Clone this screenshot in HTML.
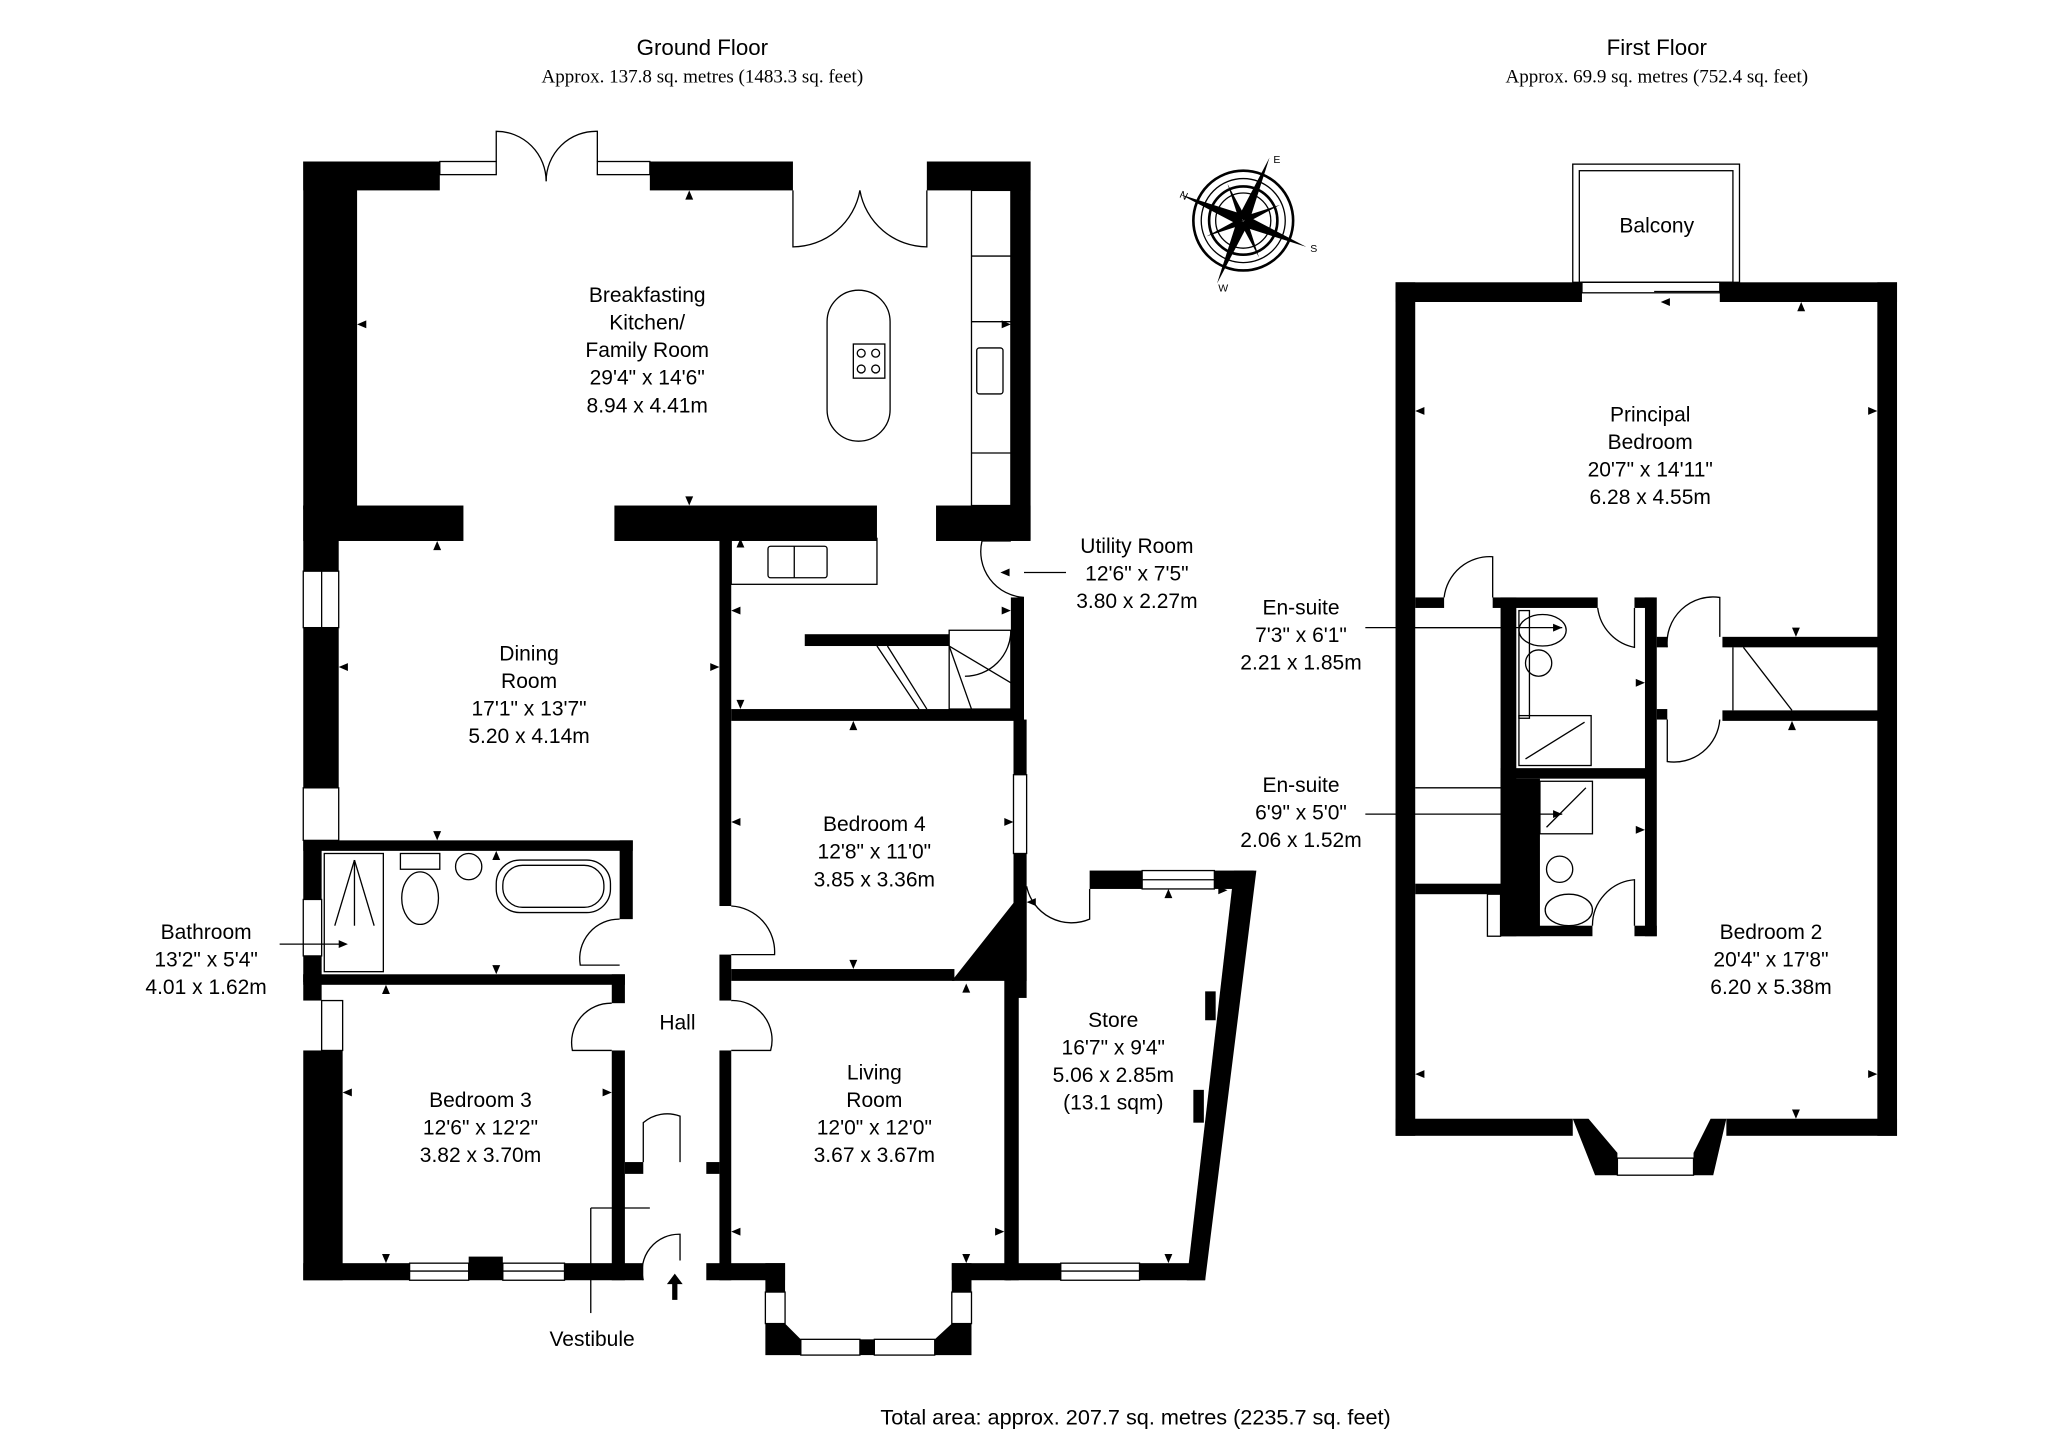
<!DOCTYPE html>
<html><head><meta charset="utf-8"><style>
html,body{margin:0;padding:0;background:#fff}
svg{display:block}
text{font-family:"Liberation Sans",sans-serif;fill:#000}
.s{font-family:"Liberation Serif",serif}
</style></head><body>
<svg width="2048" height="1447" viewBox="0 0 1560 1102" preserveAspectRatio="none" xmlns="http://www.w3.org/2000/svg">
<rect width="1560" height="1102" fill="#fff"/>
<!-- titles -->
<text x="535" y="42" font-size="17" text-anchor="middle">Ground Floor</text>
<text x="535" y="63" font-size="14.5" text-anchor="middle" class="s">Approx. 137.8 sq. metres (1483.3 sq. feet)</text>
<text x="1262" y="42" font-size="17" text-anchor="middle">First Floor</text>
<text x="1262" y="63" font-size="14.5" text-anchor="middle" class="s">Approx. 69.9 sq. metres (752.4 sq. feet)</text>
<text x="865" y="1085" font-size="16.5" text-anchor="middle">Total area: approx. 207.7 sq. metres (2235.7 sq. feet)</text>

<g fill="#000">
<rect x="231" y="123" width="104" height="22"/>
<rect x="231" y="123" width="41" height="265"/>
<rect x="231" y="385" width="122" height="27"/>
<rect x="231" y="385" width="27" height="50"/>
<rect x="231" y="478" width="27" height="122"/>
<rect x="231" y="640" width="251" height="8"/>
<rect x="231" y="640" width="14" height="45"/>
<rect x="231" y="728" width="14" height="20"/>
<rect x="231" y="742" width="245" height="8"/>
<rect x="231" y="742" width="14" height="20"/>
<rect x="231" y="800" width="30" height="175"/>
<rect x="231" y="962" width="81" height="13"/>
<rect x="357" y="957" width="26" height="18"/>
<rect x="430" y="962" width="60" height="13"/>
<rect x="495" y="123" width="109" height="22"/>
<rect x="706" y="123" width="79" height="22"/>
<rect x="770" y="123" width="15" height="288"/>
<rect x="468" y="385" width="200" height="27"/>
<rect x="713" y="385" width="72" height="27"/>
<rect x="770" y="455" width="10" height="93"/>
<rect x="548" y="410" width="9" height="280"/>
<rect x="548" y="727" width="9" height="35"/>
<rect x="548" y="800" width="9" height="175"/>
<rect x="538" y="962" width="60" height="13"/>
<rect x="613" y="483" width="110" height="9"/>
<rect x="557" y="540" width="223" height="9"/>
<rect x="772" y="548" width="10" height="42"/>
<rect x="772" y="650" width="10" height="110"/>
<rect x="557" y="738" width="170" height="9"/>
<polygon points="725,747 782,675 782,747"/>
<rect x="765" y="740" width="11" height="235"/>
<rect x="766" y="962" width="42" height="13"/>
<rect x="868" y="962" width="50" height="13"/>
<rect x="830" y="663" width="40" height="14"/>
<rect x="925" y="663" width="30" height="14"/>
<polygon points="940,663 957,663 918,975 904,975"/>
<rect x="918" y="755" width="8" height="22"/>
<rect x="909" y="830" width="8" height="25"/>
<rect x="472" y="640" width="10" height="60"/>
<rect x="466" y="742" width="10" height="22"/>
<rect x="466" y="800" width="10" height="175"/>
<rect x="476" y="885" width="14" height="9"/>
<rect x="538" y="885" width="10" height="9"/>
<rect x="725" y="962" width="45" height="13"/>
<rect x="583" y="962" width="15" height="22"/>
<polygon points="583,1008 598,1008 610,1020 610,1032 583,1032"/>
<rect x="655" y="1020" width="11" height="12"/>
<rect x="725" y="962" width="15" height="22"/>
<polygon points="740,1008 725,1008 712,1020 712,1032 740,1032"/>
<rect x="1063" y="215" width="142" height="15"/>
<rect x="1310" y="215" width="135" height="15"/>
<rect x="1063" y="215" width="15" height="650"/>
<rect x="1430" y="215" width="15" height="650"/>
<rect x="1063" y="852" width="135" height="13"/>
<rect x="1315" y="852" width="130" height="13"/>
<polygon points="1198,852 1210,852 1232,878 1232,895 1215,895"/>
<polygon points="1315,852 1303,852 1290,878 1290,895 1305,895"/>
<rect x="1078" y="455" width="22" height="8"/>
<rect x="1137" y="455" width="80" height="8"/>
<rect x="1143" y="455" width="12" height="258"/>
<rect x="1143" y="585" width="115" height="8"/>
<rect x="1143" y="593" width="30" height="120"/>
<rect x="1143" y="705" width="70" height="8"/>
<rect x="1078" y="673" width="67" height="8"/>
<rect x="1245" y="455" width="15" height="8"/>
<rect x="1253" y="455" width="9" height="258"/>
<rect x="1245" y="705" width="17" height="8"/>
<rect x="1262" y="485" width="8" height="8"/>
<rect x="1262" y="540" width="8" height="8"/>
<rect x="1312" y="485" width="120" height="8"/>
<rect x="1312" y="541" width="120" height="8"/>
<polygon points="508,978 514,970 520,978 516,978 516,990 512,990 512,978"/>
</g>

<g fill="none" stroke="#000" stroke-width="1">
<rect x="335" y="123" width="43" height="10"/><rect x="455" y="123" width="40" height="10"/>
<rect x="231" y="435" width="27" height="43" /><line x1="245" y1="435" x2="245" y2="478"/>
<rect x="231" y="600" width="27" height="40"/>
<rect x="231" y="685" width="14" height="43"/>
<rect x="245" y="762" width="16" height="38"/>
<rect x="312" y="962" width="45" height="13"/><line x1="312" y1="968" x2="357" y2="968"/>
<rect x="383" y="962" width="47" height="13"/><line x1="383" y1="968" x2="430" y2="968"/>
<rect x="808" y="962" width="60" height="13"/><line x1="808" y1="968" x2="868" y2="968"/>
<rect x="870" y="663" width="55" height="14"/><line x1="870" y1="670" x2="925" y2="670"/>
<rect x="772" y="590" width="10" height="60"/>
<rect x="610" y="1020" width="45" height="12"/><rect x="666" y="1020" width="46" height="12"/>
<rect x="583" y="984" width="15" height="24"/><rect x="725" y="984" width="15" height="24"/>
<path d="M378,123 V100 A38,38 0 0 1 416,138"/><path d="M455,123 V100 A38,38 0 0 0 416,138"/>
<path d="M604,145 V188 A52,52 0 0 0 655,145"/><path d="M706,145 V188 A52,52 0 0 1 655,145"/>
<path d="M770,412 H748 A35,35 0 0 0 780,455"/>
<path d="M557,727 H590 A35,35 0 0 0 557,690"/>
<path d="M472,700 A30,30 0 0 0 442,735 H472"/>
<path d="M466,764 A30,30 0 0 0 436,800 H466"/>
<path d="M557,762 A30,30 0 0 1 587,800 H557"/>
<path d="M490,885 V855 A28,28 0 0 1 518,850 V885"/>
<path d="M490,975 A28,28 0 0 1 518,940 V960"/>
<path d="M782,675 A35,35 0 0 0 830,700 V677"/>
<line x1="450" y1="920" x2="450" y2="1000"/><line x1="450" y1="920" x2="495" y2="920"/>
<rect x="740" y="145" width="30" height="240"/>
<line x1="740" y1="195" x2="770" y2="195"/><line x1="740" y1="245" x2="770" y2="245"/><line x1="740" y1="345" x2="770" y2="345"/>
<rect x="744" y="265" width="20" height="35" rx="2"/>
<path d="M630,245 A24,24 0 0 1 678,245 V312 A24,24 0 0 1 630,312 Z"/>
<rect x="650" y="262" width="24" height="26"/>
<circle cx="656" cy="269" r="3"/><circle cx="667" cy="269" r="3"/><circle cx="656" cy="281" r="3"/><circle cx="667" cy="281" r="3"/>
<rect x="557" y="410" width="111" height="35"/>
<rect x="585" y="416" width="45" height="24" rx="2"/><line x1="605" y1="416" x2="605" y2="440"/>
<rect x="723" y="480" width="47" height="60"/>
<line x1="668" y1="492" x2="700" y2="540"/><line x1="676" y1="492" x2="706" y2="540"/>
<line x1="723" y1="492" x2="740" y2="540"/><line x1="723" y1="492" x2="770" y2="520"/>
<path d="M770,480 A35,35 0 0 1 735,515"/>
<rect x="247" y="650" width="45" height="90"/>
<line x1="270" y1="655" x2="255" y2="705"/><line x1="270" y1="655" x2="285" y2="705"/><line x1="270" y1="655" x2="270" y2="705"/>
<rect x="305" y="650" width="30" height="12"/><ellipse cx="320" cy="684" rx="14" ry="20"/>
<circle cx="357" cy="660" r="10"/>
<rect x="378" y="655" width="87" height="40" rx="18"/><rect x="383" y="659" width="77" height="32" rx="15"/>
<line x1="213" y1="719" x2="262" y2="719"/>
<line x1="780" y1="436" x2="812" y2="436"/>
<rect x="1198" y="125" width="127" height="90"/><rect x="1203" y="130" width="117" height="85"/>
<rect x="1205" y="215" width="105" height="8"/><line x1="1260" y1="222" x2="1310" y2="222"/>
<rect x="1232" y="882" width="58" height="13"/>
<path d="M1100,455 A35,35 0 0 1 1137,424 V455"/>
<line x1="1078" y1="478" x2="1143" y2="478"/><line x1="1078" y1="600" x2="1143" y2="600"/>
<rect x="1133" y="681" width="10" height="32"/>
<path d="M1217,463 A35,35 0 0 0 1245,493 V463"/>
<path d="M1270,493 A35,35 0 0 1 1310,455 V485"/>
<path d="M1270,548 V580 A35,35 0 0 0 1310,548"/>
<path d="M1213,705 A35,35 0 0 1 1245,670 V705"/>
<line x1="1328" y1="493" x2="1365" y2="541"/><line x1="1320" y1="493" x2="1320" y2="541"/>
<line x1="1040" y1="478" x2="1190" y2="478"/><line x1="1040" y1="620" x2="1190" y2="620"/>
<rect x="1157" y="465" width="8" height="82"/>
<ellipse cx="1175" cy="480" rx="18" ry="12"/><circle cx="1172" cy="505" r="10"/>
<rect x="1157" y="545" width="55" height="38"/><line x1="1162" y1="578" x2="1207" y2="550"/>
<rect x="1173" y="595" width="40" height="40"/><line x1="1178" y1="630" x2="1208" y2="600"/>
<circle cx="1188" cy="662" r="10"/><ellipse cx="1195" cy="693" rx="18" ry="12"/>
</g>

<g transform="translate(947,168)" fill="none" stroke="#000">
<circle r="38" stroke-width="2"/><circle r="32"/><circle r="26" stroke-width="2"/><circle r="21"/>
<g fill="#000" stroke="none">
<polygon points="-48,-20 -4,-6 0,0 -6,2"/><polygon points="20,-48 6,-4 0,0 -2,-6"/>
<polygon points="48,20 4,6 0,0 6,-2"/><polygon points="-20,48 -6,4 0,0 2,6"/>
<polygon points="-12,-28 2,-2 -3,0"/><polygon points="28,-12 2,2 0,-3"/>
<polygon points="12,28 -2,2 3,0"/><polygon points="-28,12 -2,-2 0,3"/>
</g>
</g>
<text x="898" y="150" font-size="8" transform="rotate(25 898 150)">N</text>
<text x="970" y="124" font-size="8">E</text>
<text x="998" y="192" font-size="8">S</text>
<text x="928" y="222" font-size="8">W</text>

<g fill="#000">
<polygon points="272,247 279,244 279,250"/><polygon points="770,247 763,244 763,250"/>
<polygon points="525,145 522,152 528,152"/><polygon points="525,385 522,378 528,378"/>
<polygon points="333,412 330,419 336,419"/><polygon points="258,508 265,505 265,511"/>
<polygon points="548,508 541,505 541,511"/><polygon points="333,640 330,633 336,633"/>
<polygon points="564,410 561,417 567,417"/><polygon points="557,465 564,462 564,468"/>
<polygon points="770,465 763,462 763,468"/><polygon points="564,540 561,533 567,533"/>
<polygon points="650,549 647,556 653,556"/><polygon points="557,626 564,623 564,629"/>
<polygon points="772,626 765,623 765,629"/><polygon points="650,738 647,731 653,731"/>
<polygon points="378,648 375,655 381,655"/><polygon points="378,742 375,735 381,735"/>
<polygon points="294,750 291,757 297,757"/><polygon points="261,832 268,829 268,835"/>
<polygon points="466,832 459,829 459,835"/><polygon points="294,962 291,955 297,955"/>
<polygon points="736,749 733,756 739,756"/><polygon points="557,938 564,935 564,941"/>
<polygon points="765,938 758,935 758,941"/><polygon points="736,962 733,955 739,955"/>
<polygon points="890,677 887,684 893,684"/><polygon points="782,687 789,684 789,690"/>
<polygon points="890,962 887,955 893,955"/><polygon points="935,678 928,675 928,681"/>
<polygon points="265,719 258,716 258,722"/><polygon points="762,436 769,433 769,439"/>
<polygon points="1078,313 1085,310 1085,316"/><polygon points="1430,313 1423,310 1423,316"/>
<polygon points="1372,230 1369,237 1375,237"/><polygon points="1265,230 1272,227 1272,233"/>
<polygon points="1078,818 1085,815 1085,821"/><polygon points="1430,818 1423,815 1423,821"/>
<polygon points="1368,852 1365,845 1371,845"/><polygon points="1368,485 1365,478 1371,478"/>
<polygon points="1365,549 1362,556 1368,556"/><polygon points="1190,478 1183,475 1183,481"/>
<polygon points="1190,620 1183,617 1183,623"/><polygon points="1253,520 1246,517 1246,523"/>
<polygon points="1253,632 1246,629 1246,635"/>
</g>

<g font-size="16" text-anchor="middle">
<text x="493" y="230">Breakfasting</text><text x="493" y="251">Kitchen/</text><text x="493" y="272">Family Room</text><text x="493" y="293">29'4" x 14'6"</text><text x="493" y="314">8.94 x 4.41m</text>
<text x="403" y="503">Dining</text><text x="403" y="524">Room</text><text x="403" y="545">17'1" x 13'7"</text><text x="403" y="566">5.20 x 4.14m</text>
<text x="866" y="421">Utility Room</text><text x="866" y="442">12'6" x 7'5"</text><text x="866" y="463">3.80 x 2.27m</text>
<text x="666" y="633">Bedroom 4</text><text x="666" y="654">12'8" x 11'0"</text><text x="666" y="675">3.85 x 3.36m</text>
<text x="157" y="715">Bathroom</text><text x="157" y="736">13'2" x 5'4"</text><text x="157" y="757">4.01 x 1.62m</text>
<text x="516" y="784">Hall</text>
<text x="366" y="843">Bedroom 3</text><text x="366" y="864">12'6" x 12'2"</text><text x="366" y="885">3.82 x 3.70m</text>
<text x="666" y="822">Living</text><text x="666" y="843">Room</text><text x="666" y="864">12'0" x 12'0"</text><text x="666" y="885">3.67 x 3.67m</text>
<text x="848" y="782">Store</text><text x="848" y="803">16'7" x 9'4"</text><text x="848" y="824">5.06 x 2.85m</text><text x="848" y="845">(13.1 sqm)</text>
<text x="451" y="1025">Vestibule</text>
<text x="1262" y="177">Balcony</text>
<text x="1257" y="321">Principal</text><text x="1257" y="342">Bedroom</text><text x="1257" y="363">20'7" x 14'11"</text><text x="1257" y="384">6.28 x 4.55m</text>
<text x="991" y="468">En-suite</text><text x="991" y="489">7'3" x 6'1"</text><text x="991" y="510">2.21 x 1.85m</text>
<text x="991" y="603">En-suite</text><text x="991" y="624">6'9" x 5'0"</text><text x="991" y="645">2.06 x 1.52m</text>
<text x="1349" y="715">Bedroom 2</text><text x="1349" y="736">20'4" x 17'8"</text><text x="1349" y="757">6.20 x 5.38m</text>
</g>
</svg>
</body></html>
